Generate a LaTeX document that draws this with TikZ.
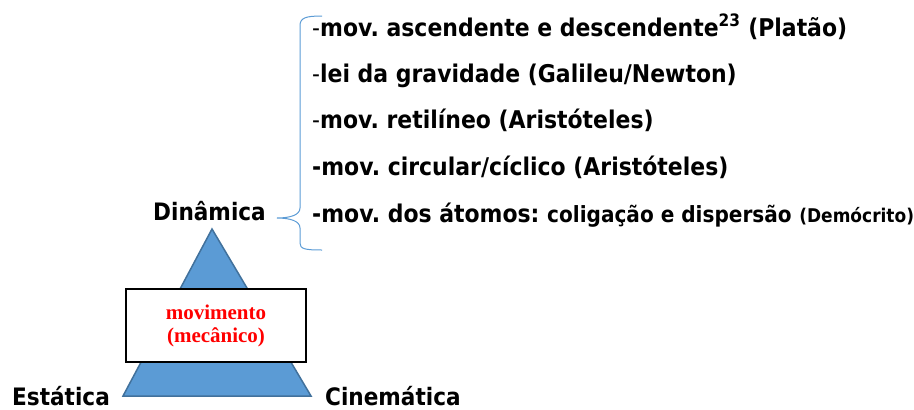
\documentclass[tikz,border=0pt]{standalone}
\usepackage{fontspec}
\setmainfont{DejaVu Sans}[FakeStretch=0.9]
\newfontfamily\serifbold{Liberation Serif}
\definecolor{triblue}{HTML}{5B9BD5}
\definecolor{triedge}{HTML}{41719C}
\definecolor{bracecol}{HTML}{5B9BD5}
\newcommand\hyreg{{\mdseries -}}
\frenchspacing
\begin{document}
\begin{tikzpicture}[x=1pt,y=-1pt,
  lbl/.style={anchor=base west,inner sep=0pt,font=\fontsize{24}{28}\selectfont\bfseries},
  item/.style={anchor=base west,inner sep=0pt,font=\fontsize{24.4}{28}\selectfont\bfseries}]
\useasboundingbox (0,0) rectangle (914,410);
% triangle
\draw[fill=triblue,draw=triedge,line width=1.5pt,line join=miter] (212,229) -- (311,396) -- (123,396) -- cycle;
% box
\node[draw=black,line width=1.8pt,fill=white,minimum width=180pt,minimum height=73pt,inner sep=0pt,
  text=red,font=\serifbold\fontsize{21}{23}\selectfont\bfseries,align=center] (box) at (216,325.5)
  {movimento\\(mecânico)};
% corner labels
\node[lbl] (din) at (153,220) {Dinâmica};
\node[lbl] (est) at (12,405) {Estática};
\node[lbl] (cin) at (325,405) {Cinemática};
% brace
\coordinate (bt) at (322,16);
\coordinate (bb) at (322,250);
\coordinate (tip) at (277,218);
\draw[bracecol,line width=1pt] (bt) .. controls (305,16) and (300,18) .. (300,26)
  -- (300,208) .. controls (300,215) and (290,218) .. (tip)
  .. controls (290,218) and (300,221) .. (300,228)
  -- (300,243) .. controls (300,249) and (305,250) .. (bb);
% items
\node[item] (i1) at (312,36) {\hyreg mov. ascendente e descendente\textsuperscript{23} (Platão)};
\node[item] (i2) at (312,82) {\hyreg lei da gravidade (Galileu/Newton)};
\node[item] (i3) at (312,128) {\hyreg mov. retilíneo (Aristóteles)};
\node[item] (i4) at (312,175) {-mov. circular/cíclico (Aristóteles)};
\node[item] (i5) at (312,222) {-mov. dos átomos: {\fontsize{22.3}{24}\selectfont coligação e dispersão} {\fontsize{18.9}{21}\selectfont (Demócrito)}};
\end{tikzpicture}
\end{document}
